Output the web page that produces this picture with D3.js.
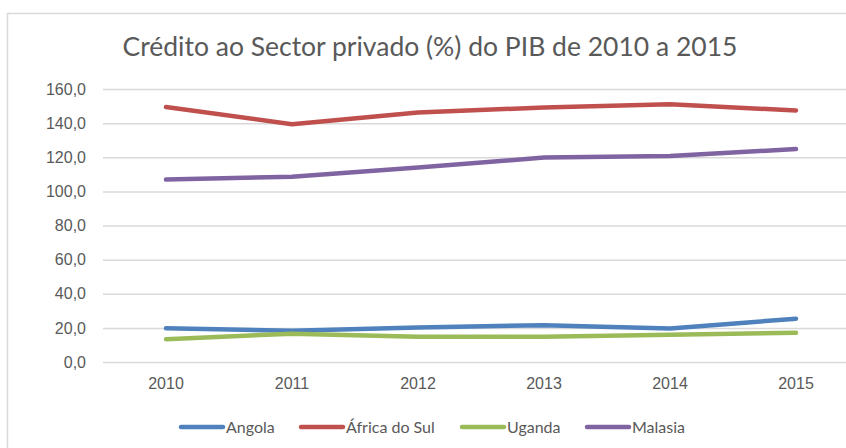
<!DOCTYPE html>
<html>
<head>
<meta charset="utf-8">
<script src="https://cdn.jsdelivr.net/npm/d3@7"></script>
<style>
  html, body { margin: 0; padding: 0; background: #fff; overflow: hidden; }
  svg { display: block; font-family: Lato, "Open Sans", sans-serif; }
</style>
</head>
<body>
<svg id="chart" width="846" height="448"></svg>
<script>
const title = "Crédito ao Sector privado (%) do PIB de 2010 a 2015";
const years = ["2010", "2011", "2012", "2013", "2014", "2015"];
const seriesNames = ["Angola", "África do Sul", "Uganda", "Malasia"];
const angola = [19.8, 18.3, 20.2, 21.6, 19.6, 25.4];
const africaDoSul = [149.4, 139.4, 146.2, 149.2, 151.0, 147.4];
const uganda = [13.4, 16.6, 14.8, 14.8, 16.0, 17.1];
const malasia = [106.9, 108.6, 114.0, 119.8, 120.8, 124.8];
const yTicks = [0, 20, 40, 60, 80, 100, 120, 140, 160];
const colors = ["#4F81BD", "#C0504D", "#9BBB59", "#8064A2"];

const allValues = [angola, africaDoSul, uganda, malasia];
const svg = d3.select("#chart");
const textColor = "#595959";
const gridColor = "#d9d9d9";

svg.append("rect")
  .attr("x", 7.5).attr("y", 13.5)
  .attr("width", 900).attr("height", 500)
  .attr("fill", "none").attr("stroke", gridColor).attr("stroke-width", 1.5);

const plot = { left: 103, right: 859, top: 89, bottom: 362 };

const x = d3.scaleBand().domain(years).range([plot.left, plot.right]);
const xc = d => x(d) + x.bandwidth() / 2;
const y = d3.scaleLinear().domain([0, 160]).range([plot.bottom, plot.top]);

svg.append("text")
  .attr("x", 430).attr("y", 56)
  .attr("text-anchor", "middle")
  .attr("fill", textColor)
  .style("font-size", "26.5px")
  .text(title);

const yAxis = d3.axisLeft(y)
  .tickValues(yTicks)
  .tickSize(-(plot.right - plot.left))
  .tickPadding(17)
  .tickFormat(d => d3.format(".1f")(d).replace(".", ","));
const gy = svg.append("g").attr("transform", `translate(${plot.left},0)`).call(yAxis);
gy.select(".domain").remove();
gy.selectAll(".tick line").attr("stroke", gridColor).attr("stroke-width", 1.5);
gy.selectAll(".tick text").attr("fill", textColor).style("font-size", "16px");

const xAxis = d3.axisBottom(x).tickSize(0).tickPadding(16);
const gx = svg.append("g").attr("transform", `translate(0,${plot.bottom})`).call(xAxis);
gx.select(".domain").remove();
gx.selectAll(".tick text").attr("fill", textColor).style("font-size", "16px");

const line = d3.line().x((d, i) => xc(years[i])).y(d => y(d));
allValues.forEach((vals, i) => {
  svg.append("path")
    .datum(vals)
    .attr("d", line)
    .attr("fill", "none")
    .attr("stroke", colors[i])
    .attr("stroke-width", 4.5)
    .attr("stroke-linecap", "round")
    .attr("stroke-linejoin", "round");
});

const legendX = [181, 301, 462, 587];
const legendY = 427;
seriesNames.forEach((name, i) => {
  const g = svg.append("g").attr("transform", `translate(${legendX[i]},${legendY})`);
  g.append("line")
    .attr("x1", 0).attr("x2", 42).attr("y1", 0).attr("y2", 0)
    .attr("stroke", colors[i]).attr("stroke-width", 4.5).attr("stroke-linecap", "round");
  g.append("text")
    .attr("x", 45).attr("y", 0).attr("dy", "0.35em")
    .attr("fill", textColor)
    .style("font-size", "16px")
    .text(name);
});
</script>
</body>
</html>
